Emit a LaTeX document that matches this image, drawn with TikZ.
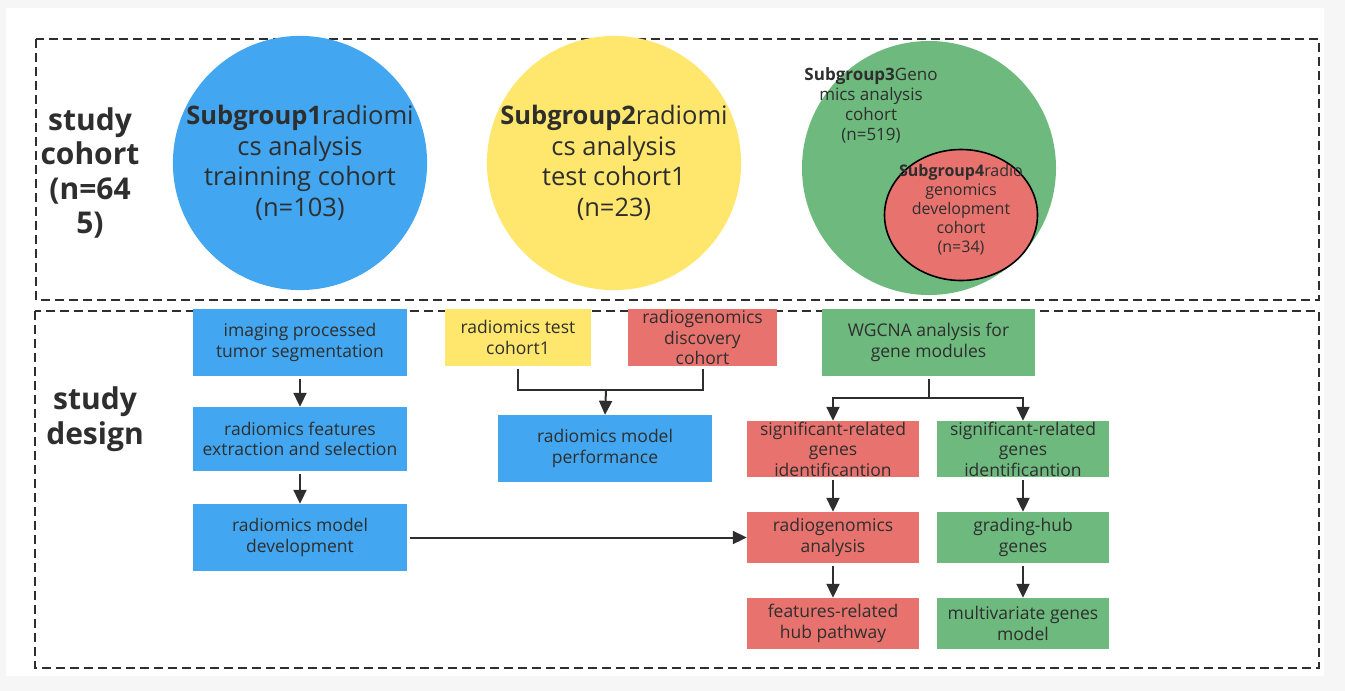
\documentclass[tikz,border=0pt]{standalone}
\usepackage{fontspec}
\setmainfont{Open Sans}
\usetikzlibrary{arrows.meta,shapes.geometric}
\definecolor{cblue}{HTML}{42A7F0}
\definecolor{cyellow}{HTML}{FFE76E}
\definecolor{cgreen}{HTML}{6EB97D}
\definecolor{cred}{HTML}{E8736E}
\definecolor{ctext}{HTML}{2E2E2E}
\definecolor{cbg}{HTML}{F6F6F6}
\begin{document}
\begin{tikzpicture}[x=1pt,y=-1pt,
  box/.style={rectangle, inner sep=0pt, align=center, text=ctext, font=\fontsize{17.5}{20.5}\selectfont},
  conn/.style={draw=ctext, line width=2pt},
  arr/.style={conn, -{Triangle[length=14pt,width=13pt]}},
  dashbox/.style={draw=ctext, line width=2pt, dash pattern=on 9pt off 5pt},
  bigcirc/.style={circle, inner sep=0pt, align=center, text=ctext, font=\fontsize{25.5}{30.5}\selectfont},
  side/.style={align=center, text=ctext, font=\bfseries\fontsize{30}{34.5}\selectfont},
]
\useasboundingbox (0,0) rectangle (1345,691);
\fill[cbg] (0,0) rectangle (1345,691);
\fill[white] (6,8) rectangle (1324,676);
\draw[dashbox] (36,39) rectangle (1319,300);
\draw[dashbox] (35,311) rectangle (1319,668);

% study cohort
\node[side] (sc) at (90,173) {study\\cohort\\(n=64\\5)};
\node[side] (sd) at (95,419) {study\\design};

% circles
\node[bigcirc, fill=cblue, minimum size=250pt] (c1) at (300,163)
  {\textbf{Subgroup1}radiomi\\cs analysis\\trainning cohort\\(n=103)};
\node[bigcirc, fill=cyellow, minimum size=252pt] (c2) at (614,163)
  {\textbf{Subgroup2}radiomi\\cs analysis\\test cohort1\\(n=23)};
\node[circle, fill=cgreen, minimum size=254pt, inner sep=0pt] (c3) at (929,168) {};
\node[align=center, text=ctext, font=\fontsize{17}{20}\selectfont] (t3) at (871,105)
  {\textbf{Subgroup3}Geno\\mics analysis\\cohort\\(n=519)};
\node[ellipse, draw=black, line width=1.6pt, fill=cred, minimum width=153pt, minimum height=131pt, inner sep=0pt] (c4) at (961,215) {};
\node[align=center, text=ctext, font=\fontsize{16}{19}\selectfont] (t4) at (961,210)
  {\textbf{Subgroup4}radio\\genomics\\development\\cohort\\(n=34)};

% left column
\node[box, fill=cblue, minimum width=214pt, minimum height=67pt] (b1) at (300,342.5) {imaging processed\\tumor segmentation};
\node[box, fill=cblue, minimum width=214pt, minimum height=64pt] (b2) at (300,439) {radiomics features\\extraction and selection};
\node[box, fill=cblue, minimum width=214pt, minimum height=67pt] (b3) at (300,537.5) {radiomics model\\development};

% middle
\node[box, fill=cyellow, minimum width=146pt, minimum height=57pt] (ty) at (518,337.5) {radiomics test\\cohort1};
\node[box, fill=cred, minimum width=149pt, minimum height=57pt] (rd) at (702.5,337.5) {radiogenomics\\discovery\\cohort};
\node[box, fill=cblue, minimum width=214pt, minimum height=67pt] (perf) at (605,448.5) {radiomics model\\performance};

% right
\node[box, fill=cgreen, minimum width=213pt, minimum height=67pt] (wg) at (928.5,342.5) {WGCNA analysis for\\gene modules};
\node[box, fill=cred, minimum width=172pt, minimum height=56pt] (rs1) at (833,449) {significant-related\\genes\\identificantion};
\node[box, fill=cred, minimum width=172pt, minimum height=51pt] (rs2) at (833,537.5) {radiogenomics\\analysis};
\node[box, fill=cred, minimum width=172pt, minimum height=51pt] (rs3) at (833,623.5) {features-related\\hub pathway};
\node[box, fill=cgreen, minimum width=172pt, minimum height=56pt] (gs1) at (1023,449) {significant-related\\genes\\identificantion};
\node[box, fill=cgreen, minimum width=172pt, minimum height=51pt] (gs2) at (1023,537.5) {grading-hub\\genes};
\node[box, fill=cgreen, minimum width=172pt, minimum height=51pt] (gs3) at (1023,623.5) {multivariate genes\\model};

% connectors
\draw[arr, shorten <=3pt] (b1.south) -- (b2.north);
\draw[arr, shorten <=3pt] (b2.south) -- (b3.north);
\draw[arr, shorten <=3pt] (b3.east) -- (rs2.west);

\coordinate (j1) at (606,390);
\draw[conn, shorten <=3pt] (ty.south) |- (j1);
\draw[conn, shorten <=3pt] (rd.south) |- (j1);
\draw[arr] (j1) -- (perf.north);

\coordinate (j2) at (928.5,398);
\draw[conn, shorten <=3pt] (wg.south) -- (j2);
\draw[arr] (j2) -| (rs1.north);
\draw[arr] (j2) -| (gs1.north);
\draw[arr, shorten <=3pt] (rs1.south) -- (rs2.north);
\draw[arr, shorten <=3pt] (rs2.south) -- (rs3.north);
\draw[arr, shorten <=3pt] (gs1.south) -- (gs2.north);
\draw[arr, shorten <=3pt] (gs2.south) -- (gs3.north);
\end{tikzpicture}
\end{document}
